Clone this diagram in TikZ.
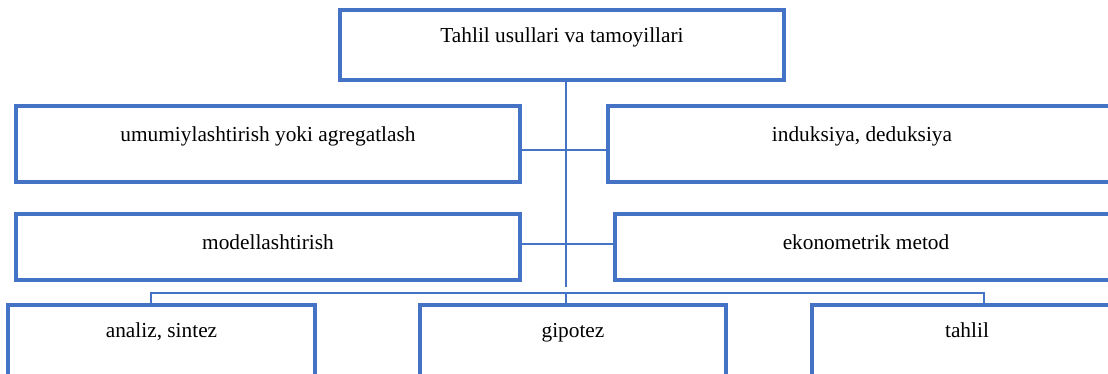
\documentclass[tikz,border=0pt]{standalone}
\usepackage{fontspec}
\setmainfont{Liberation Serif}
\usetikzlibrary{positioning}
\definecolor{wordblue}{HTML}{4472C4}

\begin{document}
\begin{tikzpicture}[x=0.75pt, y=-0.75pt]
  \tikzset{BoxStyle/.style 2 args = {shape          = rectangle,
                                     draw           = wordblue,
                                     line width     = 2.3pt,
                                     text           = black,
                                     font           = \fontsize{16}{19}\selectfont,
                                     inner xsep     = 0pt,
                                     inner ysep     = 0pt,
                                     text height    = #1,
                                     text depth     = #2},
           LinkStyle/.style = {draw=wordblue, line width=1.3pt}}
  \useasboundingbox (0,0) rectangle (1108,374);
	%%% SARLAVHA %%%
	\node[BoxStyle={24.75pt}{27.75pt}, minimum width=333pt](tahlil) at (562,45) {Tahlil usullari va tamoyillari};
	%%% IKKINCHI QATOR %%%
	\node[BoxStyle={27pt}{30pt}, minimum width=378pt](umum) at (268,144) {umumiylashtirish yoki agregatlash};
	\node[BoxStyle={27pt}{30pt}, minimum width=381pt](induk) at (862,144) {induksiya, deduksiya};
	%%% UCHINCHI QATOR %%%
	\node[BoxStyle={27pt}{22.5pt}, minimum width=378pt](model) at (268,247) {modellashtirish};
	\node[BoxStyle={27pt}{22.5pt}, minimum width=376.5pt](ekon) at (866,247) {ekonometrik metod};
	%%% PASTKI QATOR %%%
	\node[BoxStyle={24.75pt}{35.25pt}, minimum width=230.25pt](analiz) at (161.5,345) {analiz, sintez};
	\node[BoxStyle={24.75pt}{35.25pt}, minimum width=229.5pt](gipotez) at (573,345) {gipotez};
	\node[BoxStyle={24.75pt}{35.25pt}, minimum width=232.5pt](tahlilb) at (967,345) {tahlil};
	%%% BOG'LANISHLAR %%%
	\coordinate (trunk) at (566,287);
	\coordinate (r2) at (566,150);
	\coordinate (r3) at (566,244);
	\coordinate (busl) at (151,293);
	\coordinate (busm) at (566,293);
	\coordinate (busr) at (984,293);
	\draw[LinkStyle](tahlil.south -| trunk) to (trunk);
	\draw[LinkStyle](umum.east |- r2) to (induk.west |- r2);
	\draw[LinkStyle](model.east |- r3) to (ekon.west |- r3);
	\draw[LinkStyle](analiz.north -| busl) -- (busl) -- (busr) -- (tahlilb.north -| busr);
	\draw[LinkStyle](busm) to (gipotez.north -| busm);
\end{tikzpicture}
\end{document}
